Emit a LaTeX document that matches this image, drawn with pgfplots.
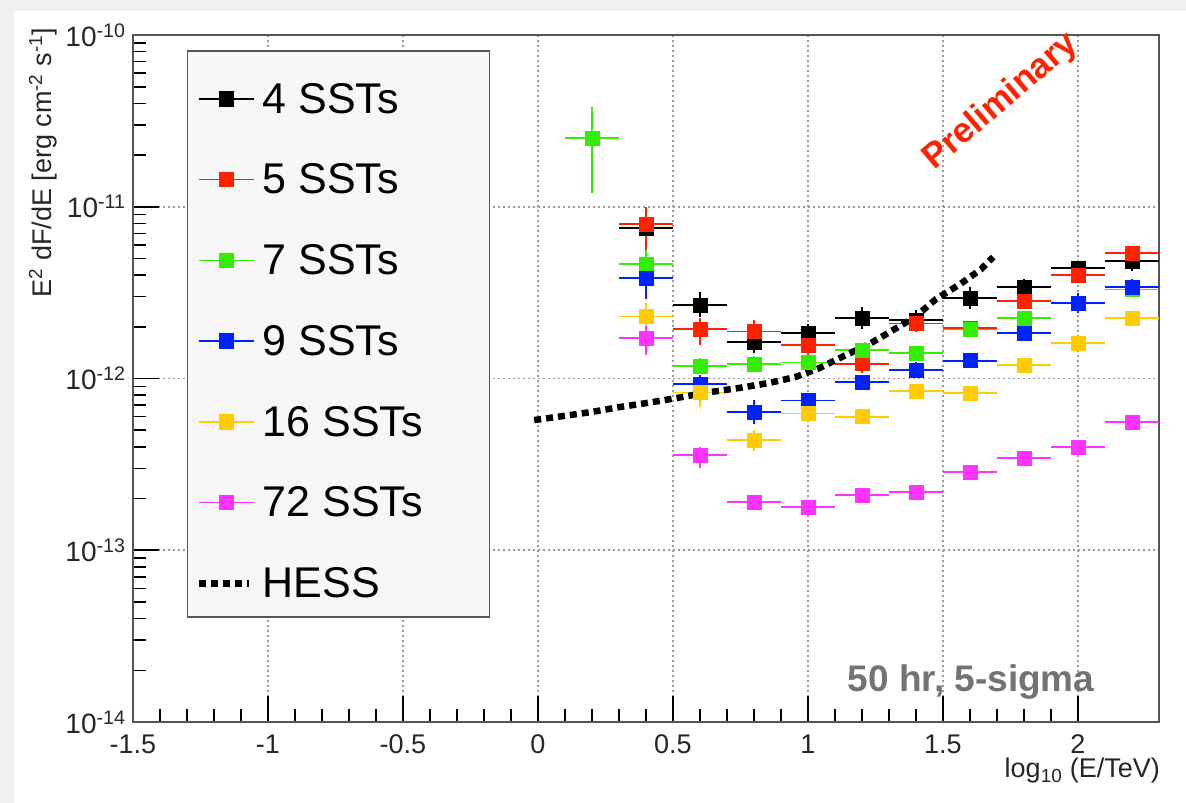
\documentclass[border=0pt]{standalone}
\usepackage{fontspec}
\setmainfont{Liberation Sans}
\usepackage{graphicx}
\usepackage{pgfplots}
\pgfplotsset{compat=1.18}
\usepackage{pgfplotstable}

\definecolor{cblack}{HTML}{000000}
\definecolor{cred}{HTML}{FF2200}
\definecolor{cgreen}{HTML}{33EE00}
\definecolor{cblue}{HTML}{0022FF}
\definecolor{cyellow}{HTML}{FFCC00}
\definecolor{cmag}{HTML}{FF33FF}
\definecolor{framec}{HTML}{555555}
\definecolor{gridc}{HTML}{9A9A9A}

\pgfplotstableread{
x y ex ep em
0.4 7.5e-12 0.1 1.8e-12 1.8e-12
0.6 2.68e-12 0.1 0.51e-12 0.40e-12
0.8 1.63e-12 0.1 0.25e-12 0.22e-12
1.0 1.84e-12 0.1 0.25e-12 0.22e-12
1.2 2.25e-12 0.1 0.35e-12 0.30e-12
1.4 2.19e-12 0.1 0.30e-12 0.27e-12
1.6 2.94e-12 0.1 0.45e-12 0.40e-12
1.8 3.40e-12 0.1 0.42e-12 0.38e-12
2.0 4.40e-12 0.1 0.45e-12 0.45e-12
2.2 4.83e-12 0.1 0.60e-12 0.60e-12
}\tblA
\pgfplotstableread{
x y ex ep em
0.4 7.9e-12 0.1 2.1e-12 2.3e-12
0.6 1.94e-12 0.1 0.31e-12 0.37e-12
0.8 1.88e-12 0.1 0.30e-12 0.25e-12
1.0 1.56e-12 0.1 0.20e-12 0.20e-12
1.2 1.22e-12 0.1 0.15e-12 0.14e-12
1.4 2.09e-12 0.1 0.25e-12 0.22e-12
1.6 1.97e-12 0.1 0.20e-12 0.20e-12
1.8 2.83e-12 0.1 0.30e-12 0.30e-12
2.0 4.00e-12 0.1 0.40e-12 0.40e-12
2.2 5.40e-12 0.1 0.50e-12 0.50e-12
}\tblB
\pgfplotstableread{
x y ex ep em
0.2 2.51e-11 0.1 1.30e-11 1.31e-11
0.4 4.65e-12 0.1 0.95e-12 0.80e-12
0.6 1.18e-12 0.1 0.14e-12 0.12e-12
0.8 1.21e-12 0.1 0.14e-12 0.12e-12
1.0 1.24e-12 0.1 0.14e-12 0.12e-12
1.2 1.47e-12 0.1 0.15e-12 0.13e-12
1.4 1.41e-12 0.1 0.14e-12 0.13e-12
1.6 1.93e-12 0.1 0.19e-12 0.17e-12
1.8 2.25e-12 0.1 0.22e-12 0.20e-12
2.2 3.30e-12 0.1 0.33e-12 0.30e-12
}\tblC
\pgfplotstableread{
x y ex ep em
0.4 3.85e-12 0.1 1.0e-12 0.95e-12
0.6 9.3e-13 0.1 1.2e-13 1.0e-13
0.8 6.38e-13 0.1 1.1e-13 0.95e-13
1.0 7.45e-13 0.1 0.8e-13 0.7e-13
1.2 9.55e-13 0.1 1.0e-13 0.9e-13
1.4 1.12e-12 0.1 0.13e-12 0.11e-12
1.6 1.27e-12 0.1 0.13e-12 0.12e-12
1.8 1.84e-12 0.1 0.20e-12 0.18e-12
2.0 2.75e-12 0.1 0.40e-12 0.35e-12
2.2 3.41e-12 0.1 0.40e-12 0.35e-12
}\tblD
\pgfplotstableread{
x y ex ep em
0.4 2.30e-12 0.1 0.45e-12 0.30e-12
0.6 8.30e-13 0.1 1.5e-13 1.5e-13
0.8 4.38e-13 0.1 0.65e-13 0.6e-13
1.0 6.25e-13 0.1 0.6e-13 0.55e-13
1.2 6.00e-13 0.1 0.5e-13 0.45e-13
1.4 8.45e-13 0.1 0.6e-13 0.55e-13
1.6 8.24e-13 0.1 0.6e-13 0.55e-13
1.8 1.20e-12 0.1 0.10e-12 0.09e-12
2.0 1.61e-12 0.1 0.14e-12 0.12e-12
2.2 2.25e-12 0.1 0.18e-12 0.16e-12
}\tblE
\pgfplotstableread{
x y ex ep em
0.4 1.72e-12 0.1 0.30e-12 0.35e-12
0.6 3.59e-13 0.1 0.40e-13 0.58e-13
0.8 1.91e-13 0.1 0.15e-13 0.15e-13
1.0 1.79e-13 0.1 0.12e-13 0.12e-13
1.2 2.10e-13 0.1 0.12e-13 0.12e-13
1.4 2.18e-13 0.1 0.12e-13 0.12e-13
1.6 2.86e-13 0.1 0.15e-13 0.15e-13
1.8 3.44e-13 0.1 0.18e-13 0.18e-13
2.0 3.99e-13 0.1 0.20e-13 0.20e-13
2.2 5.58e-13 0.1 0.28e-13 0.28e-13
}\tblF
\pgfplotstableread{
x y
-0.014 5.73e-13
0.094 6.05e-13
0.197 6.38e-13
0.302 6.82e-13
0.402 7.20e-13
0.514 7.70e-13
0.615 8.24e-13
0.745 8.81e-13
0.856 9.42e-13
0.953 1.02e-12
1.042 1.15e-12
1.132 1.35e-12
1.228 1.59e-12
1.314 1.91e-12
1.396 2.28e-12
1.474 2.90e-12
1.564 3.55e-12
1.642 4.34e-12
1.686 5.10e-12
}\tblH

\newcommand\lgt[1]{\makebox[217pt][l]{#1}}

\pgfplotsset{
  sst/.style={
    color=#1, solid, mark=square*, only marks, mark size=7pt,
    mark options={solid, fill=#1, draw=#1},
    error bars/.cd, x dir=both, x explicit, y dir=both, y explicit,
    error mark=none, error bar style={solid, line width=1.8pt, #1},
    /pgfplots/.cd,
    legend image code/.code={
      \path[draw=none, fill=none] (0pt,-7pt) rectangle (1pt,32pt);
      \draw[#1, solid, line width=1.5pt] (0pt,0pt) -- (55pt,0pt);
      \fill[#1] (20.5pt,-7pt) rectangle (34.5pt,7pt);
    }
  }
}

\begin{document}
\begin{tikzpicture}[x=1pt,y=1pt]
\useasboundingbox (0,0) rectangle (1186,803);
\fill[black!6] (0,0) rectangle (1186,803);
\fill[white] (14,0) rectangle (1186,792);
\begin{axis}[
  at={(133pt,81pt)}, anchor=south west,
  scale only axis, width=1026pt, height=687pt,
  xmin=-1.5, xmax=2.3,
  ymode=log, ymin=1e-14, ymax=1e-10,
  axis line style={framec, line width=2pt},
  tick align=inside, xtick pos=bottom, ytick pos=left,
  major tick length=26pt, minor tick length=13pt,
  every tick/.style={black, line width=1.6pt},
  xtick={-1.5,-1,-0.5,0,0.5,1,1.5,2},
  xticklabels={-1.5,-1,-0.5,0,0.5,1,1.5,2},
  minor x tick num=4,
  ytick={1e-14,1e-13,1e-12,1e-11,1e-10},
  yticklabels={10\textsuperscript{-14},10\textsuperscript{-13},10\textsuperscript{-12},10\textsuperscript{-11},10\textsuperscript{-10}},
  xticklabel style={font=\fontsize{27}{30}\selectfont, text=black!85, yshift=-9pt},
  yticklabel style={font=\fontsize{28}{30}\selectfont, text=black!85, xshift=-4pt},
  grid=major,
  major grid style={gridc, line width=1.6pt, dash pattern=on 1.6pt off 3.4pt},
  clip=true,
  legend cell align=left,
  legend style={at={(axis description cs:0.0526,0.978)}, anchor=north west,
    fill=black!3, draw=framec, line width=1.5pt,
    inner xsep=8pt, inner ysep=16pt, row sep=31pt,
    font=\fontsize{43}{50}\selectfont,
    /tikz/every odd column/.append style={column sep=6pt}},
]
\addplot[sst=cblack] table[x=x,y=y,x error=ex,y error plus=ep,y error minus=em]{\tblA};
\addlegendentry{\lgt{4 SSTs}}
\addplot[sst=cred] table[x=x,y=y,x error=ex,y error plus=ep,y error minus=em]{\tblB};
\addlegendentry{\lgt{5 SSTs}}
\addplot[sst=cgreen] table[x=x,y=y,x error=ex,y error plus=ep,y error minus=em]{\tblC};
\addlegendentry{\lgt{7 SSTs}}
\addplot[sst=cblue] table[x=x,y=y,x error=ex,y error plus=ep,y error minus=em]{\tblD};
\addlegendentry{\lgt{9 SSTs}}
\addplot[sst=cyellow] table[x=x,y=y,x error=ex,y error plus=ep,y error minus=em]{\tblE};
\addlegendentry{\lgt{16 SSTs}}
\addplot[sst=cmag] table[x=x,y=y,x error=ex,y error plus=ep,y error minus=em]{\tblF};
\addlegendentry{\lgt{72 SSTs}}
\addplot[black, no marks, line width=6.5pt, dash pattern=on 7pt off 5pt,
  legend image code/.code={\path[draw=none, fill=none] (0pt,-7pt) rectangle (1pt,32pt);\draw[black, line width=6.5pt, dash pattern=on 7pt off 5pt] (0pt,0pt) -- (50pt,0pt);}]
  table[x=x,y=y]{\tblH};
\addlegendentry{\lgt{HESS}}
\end{axis}
\node[rotate=90, anchor=south east, inner sep=0pt, text=black!85] at (57,775)
  {\fontsize{27}{32}\selectfont E\textsuperscript{2} dF/dE [erg cm\textsuperscript{-2} s\textsuperscript{-1}]};
\node[anchor=base east, inner sep=0pt, text=black!85] at (1160,25)
  {\fontsize{27}{32}\selectfont log\textsubscript{10} (E/TeV)};
\node[anchor=base, inner sep=0pt, text=black!55] at (971,111)
  {\fontsize{37}{44}\selectfont\bfseries 50 hr, 5-sigma};
\node[rotate=40.5, inner sep=0pt, text=cred] at (1001,701)
  {\fontsize{35}{42}\selectfont\bfseries Preliminary};
\end{tikzpicture}
\end{document}
